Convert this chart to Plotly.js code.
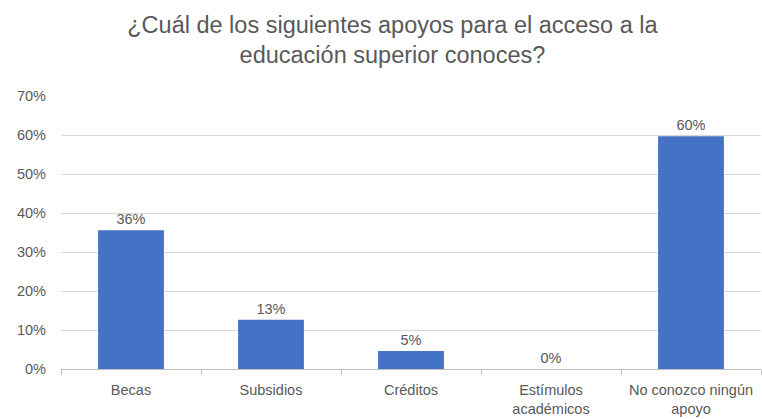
<!DOCTYPE html>
<html>
<head>
<meta charset="utf-8">
<script src="https://cdn.plot.ly/plotly-3.0.1.min.js"></script>
<style>html,body{margin:0;padding:0;background:#fff;}#chart{width:762px;height:419px;}</style>
</head>
<body>
<div id="chart"></div>
<script>
const categories = ["Becas", "Subsidios", "Créditos", "Estímulos<br>académicos", "No conozco ningún<br>apoyo"];
const values = [0.356, 0.126, 0.046, 0, 0.597];
const yTickValues = [0, 0.1, 0.2, 0.3, 0.4, 0.5, 0.6, 0.7];
const yTickLabels = ["0%", "10%", "20%", "30%", "40%", "50%", "60%", "70%"];
const titleText = "¿Cuál de los siguientes apoyos para el acceso a la<br>educación superior conoces?";

const font = "Liberation Sans, Arial, sans-serif";
const grey = "#595959";

Plotly.newPlot("chart", [{
  type: "bar",
  x: categories,
  y: values,
  marker: {color: "#4472C4"},
  texttemplate: "%{y:.0%}",
  textposition: "outside",
  cliponaxis: false,
  textfont: {family: font, size: 14.5, color: grey},
  hoverinfo: "skip"
}], {
  width: 762, height: 419,
  margin: {l: 61, r: 1, t: 96, b: 50},
  paper_bgcolor: "#fff", plot_bgcolor: "#fff",
  bargap: 0.53,
  showlegend: false,
  title: {
    text: titleText,
    font: {family: font, size: 23.5, color: grey},
    x: 0.515, xanchor: "center",
    y: 0.922, yanchor: "top"
  },
  xaxis: {
    type: "category",
    showgrid: false,
    showline: true, linecolor: "#bfbfbf", linewidth: 1,
    ticks: "outside", tickson: "boundaries", ticklen: 5, tickcolor: "#bfbfbf",
    ticklabelstandoff: 8,
    tickfont: {family: font, size: 14.5, color: grey},
    fixedrange: true
  },
  yaxis: {
    range: [0, 0.7],
    tickvals: yTickValues,
    ticktext: yTickLabels,
    showgrid: true, gridcolor: "#d9d9d9", gridwidth: 1,
    zeroline: false, showline: false,
    ticks: "", ticklen: 0,
    ticklabelstandoff: 14,
    tickfont: {family: font, size: 14.5, color: grey},
    automargin: false,
    fixedrange: true
  }
}, {displayModeBar: false, staticPlot: true});
</script>
</body>
</html>
